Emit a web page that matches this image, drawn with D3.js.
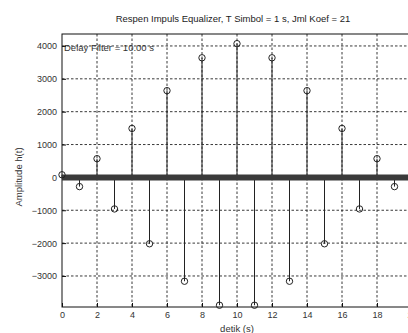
<!DOCTYPE html>
<html>
<head>
<meta charset="utf-8">
<script src="https://cdn.jsdelivr.net/npm/d3@7"></script>
<style>
  body { margin: 0; background: #fff; }
  svg { display: block; font-family: "Liberation Sans", Arial, sans-serif; }
</style>
</head>
<body>
<svg></svg>
<script>
var samples = d3.range(0, 21);
var amplitudes = [80, -280, 570, -960, 1490, -2020, 2640, -3160, 3640, -3890, 4070,
                  -3890, 3640, -3160, 2640, -2020, 1490, -960, 570, -280, 80];
var xTicks = [0, 2, 4, 6, 8, 10, 12, 14, 16, 18, 20];
var yTicks = [-3000, -2000, -1000, 0, 1000, 2000, 3000, 4000];

var svgWidth = 408, svgHeight = 333;
var plotLeft = 62, plotRight = 412, plotTop = 34, plotBottom = 307;

var svg = d3.select('svg')
    .attr("width", svgWidth)
    .attr("height", svgHeight);

var xScale = d3.scaleLinear().domain([0, 20]).range([plotLeft, plotRight]);
var yScale = d3.scaleLinear().domain([-3944, 4364]).range([plotBottom, plotTop]);

// dotted grid
svg.append("g").selectAll("line")
  .data(xTicks.slice(1))
  .enter().append("line")
  .attr("x1", d => xScale(d)).attr("x2", d => xScale(d))
  .attr("y1", plotTop).attr("y2", plotBottom)
  .attr("stroke", "#222").attr("stroke-width", 0.9)
  .attr("stroke-dasharray", "2.5,2");

svg.append("g").selectAll("line")
  .data(yTicks)
  .enter().append("line")
  .attr("x1", plotLeft).attr("x2", plotRight)
  .attr("y1", d => yScale(d)).attr("y2", d => yScale(d))
  .attr("stroke", "#222").attr("stroke-width", 0.9)
  .attr("stroke-dasharray", "2.5,2");

// axes
var xAxis = d3.axisBottom(xScale).tickValues(xTicks).tickSize(-4).tickPadding(5);
var yAxis = d3.axisLeft(yScale).tickValues(yTicks).tickSize(-4).tickPadding(5)
  .tickFormat(d3.format("d"));

var gx = svg.append("g").attr("transform", "translate(0," + plotBottom + ")").call(xAxis);
var gy = svg.append("g").attr("transform", "translate(" + plotLeft + ",0)").call(yAxis);
[gx, gy].forEach(g => {
  g.select(".domain").remove();
  g.selectAll("line").attr("stroke", "#111");
  g.selectAll("text").attr("fill", "#333").style("font-size", "9px");
});

// frame
svg.append("rect")
  .attr("x", plotLeft).attr("y", plotTop)
  .attr("width", plotRight - plotLeft).attr("height", plotBottom - plotTop)
  .attr("fill", "none").attr("stroke", "#111").attr("stroke-width", 1);

// stems
svg.append("g").selectAll("line")
  .data(amplitudes)
  .enter().append("line")
  .attr("x1", (d, i) => xScale(samples[i])).attr("x2", (d, i) => xScale(samples[i]))
  .attr("y1", yScale(0)).attr("y2", d => yScale(d))
  .attr("stroke", "#222").attr("stroke-width", 1);

// thick zero baseline
svg.append("line")
  .attr("x1", plotLeft).attr("x2", plotRight)
  .attr("y1", yScale(0)).attr("y2", yScale(0))
  .attr("stroke", "#3a3a3a").attr("stroke-width", 6);

// markers
svg.append("g").selectAll("circle")
  .data(amplitudes)
  .enter().append("circle")
  .attr("cx", (d, i) => xScale(samples[i]))
  .attr("cy", d => yScale(d))
  .attr("r", 3.2)
  .attr("fill", "none").attr("stroke", "#222").attr("stroke-width", 1);

// texts
svg.append("text")
  .attr("x", 233).attr("y", 22)
  .attr("text-anchor", "middle")
  .style("font-size", "9.5px").attr("fill", "#222")
  .text("Respen Impuls Equalizer, T Simbol = 1 s, Jml Koef = 21");

svg.append("text")
  .attr("x", 64).attr("y", 51)
  .style("font-size", "9.5px").attr("fill", "#333")
  .text("Delay Filter = 10.00 s");

svg.append("text")
  .attr("x", 237).attr("y", 332)
  .attr("text-anchor", "middle")
  .style("font-size", "9.5px").attr("fill", "#333")
  .text("detik (s)");

svg.append("text")
  .attr("transform", "translate(22,177) rotate(-90)")
  .attr("text-anchor", "middle")
  .style("font-size", "9.5px").attr("fill", "#333")
  .text("Amplitude h(t)");
</script>
</body>
</html>
